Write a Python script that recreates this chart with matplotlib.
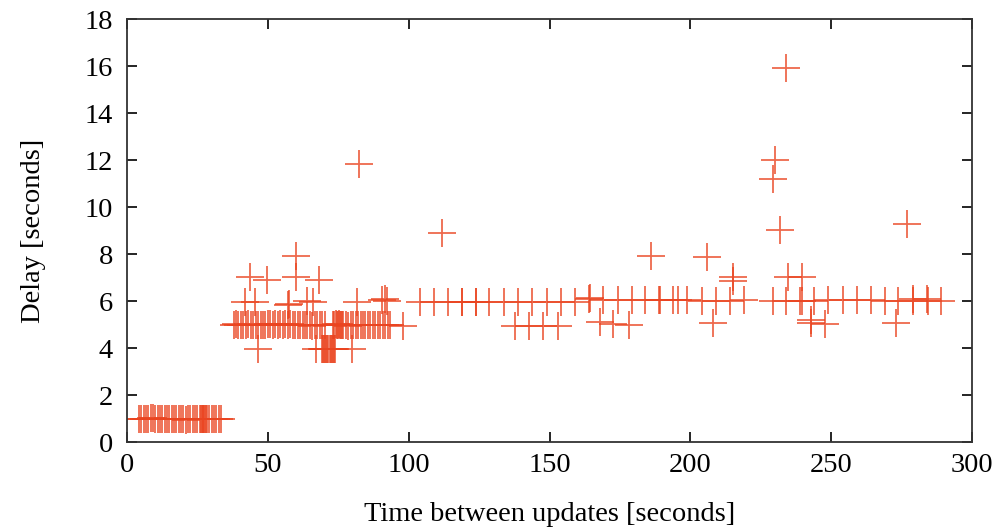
import numpy as np
import matplotlib.pyplot as plt

# puntos (retardo vs tiempo entre actualizaciones)
# banda ~1 s
low_x = [4.2, 5.0, 5.9, 6.7, 7.5, 8.3, 9.2, 10.0, 10.8, 11.6, 12.5, 13.3, 14.1, 15.0,
         15.8, 16.6, 17.5, 18.3, 19.1, 19.9, 20.8, 21.6, 22.4, 23.3, 24.1, 24.9, 25.8,
         26.2, 26.5, 26.8, 27.1, 27.4, 27.7, 28.0, 28.3, 29.2, 30.0, 30.8, 31.7, 32.5, 33.3]
low_y = [1.0, 0.98, 1.0, 1.0, 1.0, 1.02, 1.05, 1.0, 1.0, 1.0, 1.0, 1.0, 1.0, 0.98,
         1.0, 1.0, 1.0, 1.0, 1.0, 1.0, 0.95, 1.0, 1.0, 1.0, 1.0, 1.0, 1.0,
         1.0, 1.0, 1.0, 1.0, 1.0, 1.0, 1.0, 1.0, 0.98, 1.0, 1.0, 0.98, 1.0, 0.97]

# banda ~5 s
mid_x = [37.8, 38.6, 39.5, 40.4, 41.3, 42.1, 43.0, 43.9, 44.8, 45.6, 46.5, 47.4, 48.3,
         49.1, 50.0, 50.9, 51.8, 52.6, 53.5, 54.4, 55.3, 56.1, 57.0, 57.9, 58.8, 59.6,
         60.5, 61.4, 62.3, 63.1, 64.0, 64.9, 65.8, 66.6, 67.5, 68.4, 69.3, 70.1,
         73.2, 73.6, 74.0, 74.4, 74.8, 75.2, 75.6, 76.0, 76.4, 76.8,
         77.6, 78.5, 79.4, 80.2, 81.1, 82.0, 82.9, 83.7, 84.6, 85.5, 86.4, 87.2, 88.1,
         89.0, 89.9, 90.7, 91.6, 92.5, 93.4, 97.9]
mid_y = [5.0, 5.02, 5.0, 4.98, 5.0, 5.0, 5.03, 5.0, 4.98, 5.0, 5.0, 4.97, 5.0,
         5.0, 5.05, 5.05, 5.0, 5.05, 5.0, 5.05, 5.0, 5.05, 5.0, 5.05, 4.98, 5.0,
         5.0, 5.0, 4.97, 5.0, 5.0, 5.0, 4.95, 5.0, 5.0, 5.0, 5.0, 5.0,
         5.0, 5.0, 5.02, 5.0, 5.0, 5.02, 5.0, 5.0, 4.98, 5.0,
         5.0, 4.95, 5.0, 5.0, 5.0, 5.0, 4.97, 5.0, 5.0, 5.0, 5.0, 4.98, 5.0,
         5.0, 5.0, 5.0, 5.0, 5.0, 5.0, 4.96]

# grupo ~4 s
four_x = [46.4, 67.0, 69.1, 69.5, 69.9, 70.3, 70.7, 71.1, 71.5, 71.9, 72.3, 72.7,
          73.1, 73.5, 73.8, 80.0]
four_y = [3.96, 3.95, 3.96, 3.96, 3.96, 3.96, 3.96, 3.96, 3.96, 3.96, 3.96, 3.96,
          3.96, 3.96, 3.96, 3.95]

# banda ~6 s
high_x = [104.0, 109.0, 114.1, 118.8, 118.9, 123.9, 124.0, 128.6, 133.8, 138.9, 143.9,
          149.0, 154.1, 159.0, 164.1, 164.3, 169.1, 174.2, 179.2, 183.9, 189.0, 189.1,
          193.7, 195.7, 198.9, 204.0, 209.1, 214.1, 219.1, 229.2, 233.9, 238.9, 239.5,
          243.9, 248.9, 254.1, 259.0, 264.1, 269.1, 273.8, 278.9, 279.1, 284.1, 284.3,
          288.9]
high_y = [5.97, 5.97, 5.97, 5.95, 5.97, 5.95, 5.97, 5.97, 5.97, 5.97, 5.97,
          5.97, 5.97, 5.97, 6.1, 6.14, 6.05, 6.05, 6.05, 6.05, 6.05, 6.07,
          6.05, 6.05, 6.05, 6.02, 6.02, 6.02, 6.05, 6.02, 6.02, 6.0, 6.02,
          6.02, 6.05, 6.05, 6.05, 6.05, 6.02, 6.02, 6.08, 6.02, 6.08, 6.0,
          6.0]

# puntos aislados
out_x = [43.7, 49.6, 59.9, 59.9, 68.2, 41.9, 45.4, 57.6, 64.0, 65.9, 57.3, 81.8,
         90.4, 91.6, 92.2, 82.2, 111.9, 137.7, 142.8, 147.8, 152.9, 167.9, 172.6,
         178.1, 185.9, 205.8, 208.1, 215.0, 215.0, 229.2, 230.0, 231.8, 233.9, 234.8,
         239.8, 243.0, 243.0, 247.8, 273.0, 277.0]
out_y = [7.03, 6.9, 7.93, 7.03, 6.92, 5.97, 5.97, 5.9, 6.01, 5.97, 5.83, 5.97,
         6.05, 6.1, 6.02, 11.83, 8.91, 4.94, 4.94, 4.94, 4.94, 5.11, 5.05,
         5.0, 7.93, 7.86, 5.08, 7.03, 6.86, 11.19, 12.0, 9.02, 15.93, 7.03,
         7.03, 5.2, 5.08, 5.03, 5.08, 9.28]

x = low_x + mid_x + four_x + high_x + out_x
y = low_y + mid_y + four_y + high_y + out_y

plt.rcParams['font.family'] = ['Liberation Serif', 'DejaVu Serif']

fig = plt.figure(figsize=(10.01, 5.29), dpi=100)
ax = fig.add_axes([0.127, 0.164, 0.844, 0.80])
ax.plot(x, y, linestyle='none', marker='+', markersize=19.5, markeredgewidth=1.3,
        color='#ea4420', alpha=0.8)

ax.set_xlim(0, 300)
ax.set_ylim(0, 18)
ax.set_xticks(range(0, 301, 50))
ax.set_yticks(range(0, 19, 2))
ax.tick_params(direction='in', length=7, width=1.2, top=True, right=True,
               labelsize=20.5)
ax.tick_params(axis='x', pad=8)
ax.tick_params(axis='y', pad=10)
for s in ax.spines.values():
    s.set_linewidth(1.3)
    s.set_color('#333333')
ax.set_xlabel("Time between updates [seconds]", fontsize=20.5, labelpad=17)
ax.set_ylabel("Delay [seconds]", fontsize=20.5, labelpad=28)

fig.savefig("out.png", dpi=100)
